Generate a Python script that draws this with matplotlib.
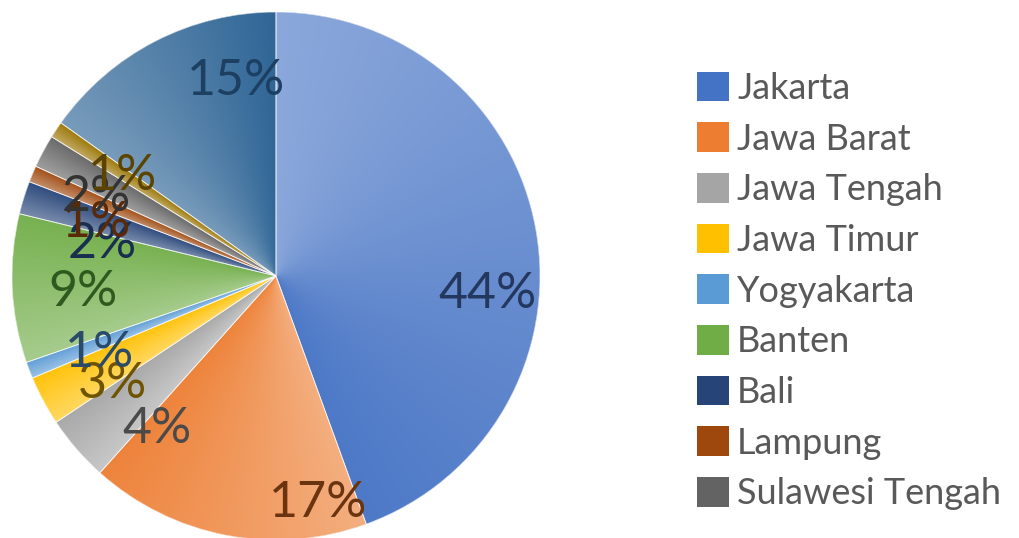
import numpy as np
import matplotlib.pyplot as plt
from matplotlib.patches import Wedge
from matplotlib.colors import to_rgb

# provinces shown in the legend, then two more slices without a legend entry
provinces = ["Jakarta", "Jawa Barat", "Jawa Tengah", "Jawa Timur", "Yogyakarta",
             "Banten", "Bali", "Lampung", "Sulawesi Tengah"]
shares = [44, 17, 4, 3, 1, 9, 2, 1, 2, 1, 15]   # percent, slice order clockwise from top

base_colors = ["#4472C4", "#ED7D31", "#A5A5A5", "#FFC000", "#5B9BD5", "#70AD47",
               "#264478", "#9E480E", "#636363", "#997300", "#255E91"]
label_colors = ["#24385f", "#6b3410", "#4a4a4a", "#6e5300", "#2a4a6a", "#2f5a1f",
                "#1a2e50", "#5a2a08", "#333333", "#5a4400", "#1c3f62"]
# where each percentage sits, in pie radius units
label_pos = [(0.80, -0.07), (0.16, -0.86), (-0.45, -0.58), (-0.62, -0.41),
             (-0.67, -0.29), (-0.73, -0.06), (-0.66, 0.12), (-0.68, 0.20),
             (-0.68, 0.30), (-0.58, 0.38), (-0.15, 0.74)]

plt.rcParams['font.family'] = ['Lato', 'DejaVu Sans']

fig = plt.figure(figsize=(10.19, 5.38), dpi=100)
ax = fig.add_axes([12/1019, 1 - 540/538, 528/1019, 528/538])

wedges, _ = ax.pie(shares, colors=base_colors, startangle=90, counterclock=False,
                   radius=1, normalize=True)
ax.set_xlim(-1, 1)
ax.set_ylim(-1, 1)
ax.set_aspect('equal')
ax.axis('off')


def tint(c, t):
    c = np.array(to_rgb(c))
    return c + (1 - c) * t


# every slice gets a light-to-dark sweep in the clockwise direction
n = 500
gx, gy = np.meshgrid(np.linspace(-1, 1, n), np.linspace(-1, 1, n))
ang = np.degrees(np.arctan2(gy, gx))
for w, c in zip(wedges, base_colors):
    a = (ang - w.theta1) % 360
    span = w.theta2 - w.theta1
    t = np.clip(1 - a / span, 0, 1)[..., None]
    light, dark = tint(c, 0.38), tint(c, 0.05)
    img = light * (1 - t) + dark * t
    im = ax.imshow(img, extent=[-1, 1, -1, 1], origin='lower', zorder=2,
                   interpolation='bilinear')
    im.set_clip_path(w)

for w in wedges:
    ax.add_patch(Wedge(w.center, w.r, w.theta1, w.theta2, fill=False,
                       edgecolor='white', linewidth=0.6, alpha=0.7, zorder=3))

for v, (x, y), col in zip(shares, label_pos, label_colors):
    ax.text(x, y, f"{v}%", ha='center', va='center', fontsize=36, color=col, zorder=4)

leg = fig.legend(wedges[:len(provinces)], provinces, loc='center left',
                 bbox_to_anchor=(0.684, 0.459), frameon=False, fontsize=26,
                 labelcolor='#595959', handlelength=0.89, handleheight=0.89,
                 handletextpad=0.22, labelspacing=0.48, borderpad=0,
                 borderaxespad=0)

fig.savefig("out.png", dpi=100)
